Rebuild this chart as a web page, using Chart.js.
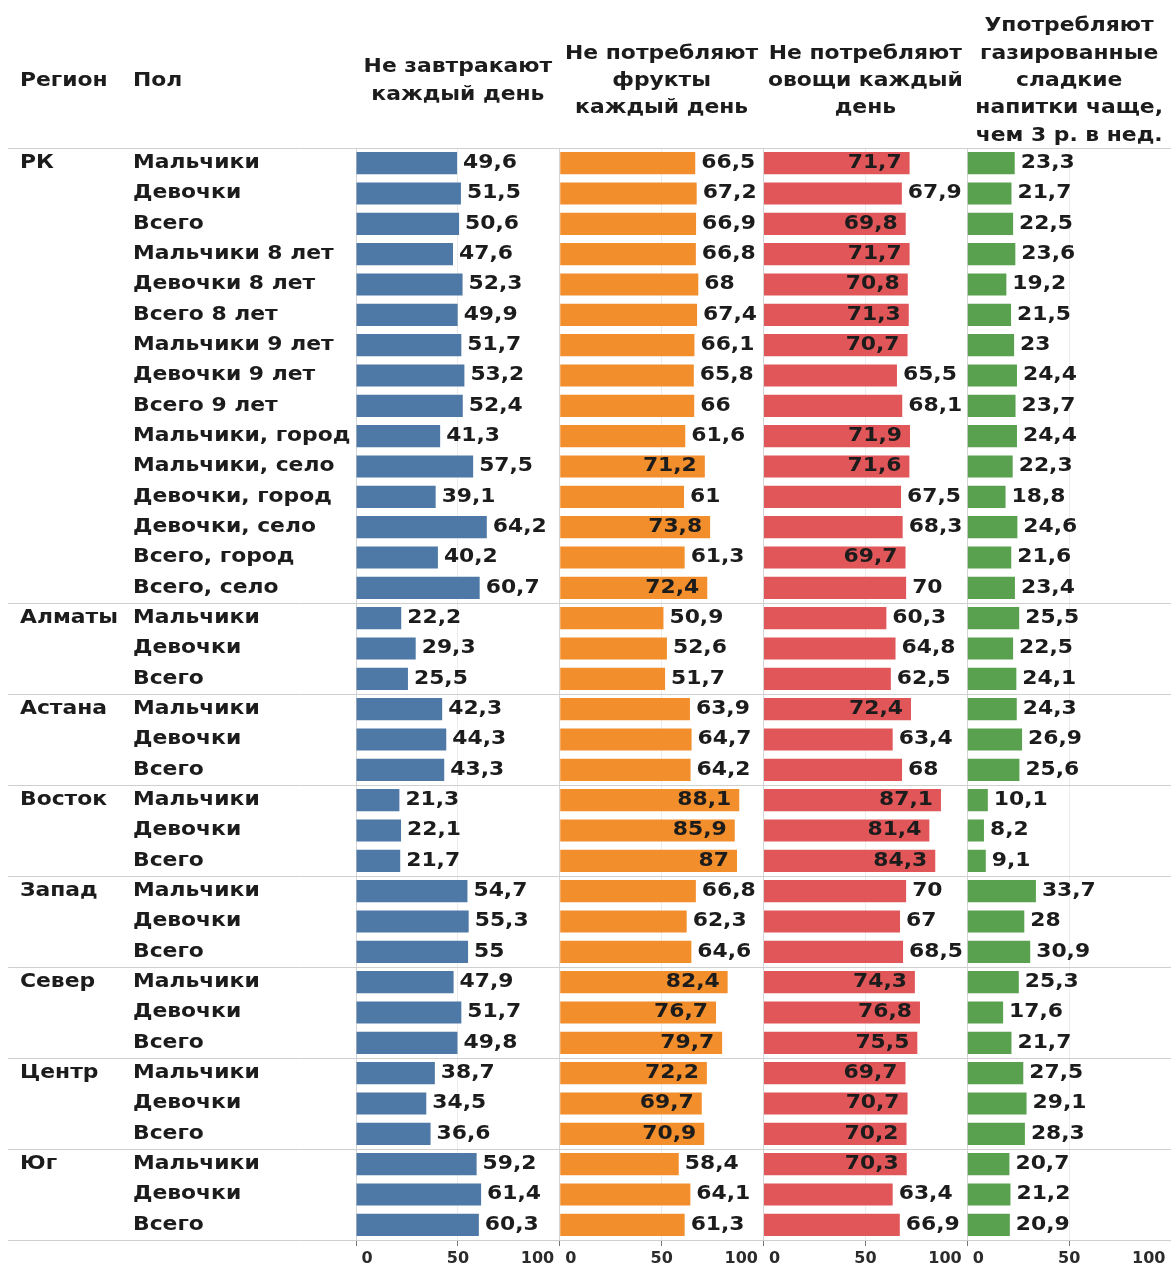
<!DOCTYPE html>
<html lang="ru">
<head>
<meta charset="utf-8">
<title>Питание школьников</title>
<script src="https://cdn.jsdelivr.net/npm/chart.js@4/dist/chart.umd.min.js"></script>
<style>
  html, body { margin: 0; padding: 0; background: #ffffff; overflow: hidden; }
  #wrap { position: relative; width: 1174px; height: 1267px; }
</style>
</head>
<body>
<div id="wrap"><canvas id="chart"></canvas></div>
<script>
// Regions and the row labels inside each region
const regions = ['РК', 'Алматы', 'Астана', 'Восток', 'Запад', 'Север', 'Центр', 'Юг'];
const rkRows = [
  'Мальчики', 'Девочки', 'Всего',
  'Мальчики 8 лет', 'Девочки 8 лет', 'Всего 8 лет',
  'Мальчики 9 лет', 'Девочки 9 лет', 'Всего 9 лет',
  'Мальчики, город', 'Мальчики, село', 'Девочки, город', 'Девочки, село',
  'Всего, город', 'Всего, село'
];
const regionRows = ['Мальчики', 'Девочки', 'Всего'];

// Indicator values, %, in row order
const noBreakfast = [
  49.6, 51.5, 50.6, 47.6, 52.3, 49.9, 51.7, 53.2, 52.4, 41.3, 57.5, 39.1, 64.2, 40.2, 60.7,
  22.2, 29.3, 25.5,
  42.3, 44.3, 43.3,
  21.3, 22.1, 21.7,
  54.7, 55.3, 55,
  47.9, 51.7, 49.8,
  38.7, 34.5, 36.6,
  59.2, 61.4, 60.3
];
const noFruit = [
  66.5, 67.2, 66.9, 66.8, 68, 67.4, 66.1, 65.8, 66, 61.6, 71.2, 61, 73.8, 61.3, 72.4,
  50.9, 52.6, 51.7,
  63.9, 64.7, 64.2,
  88.1, 85.9, 87,
  66.8, 62.3, 64.6,
  82.4, 76.7, 79.7,
  72.2, 69.7, 70.9,
  58.4, 64.1, 61.3
];
const noVegetables = [
  71.7, 67.9, 69.8, 71.7, 70.8, 71.3, 70.7, 65.5, 68.1, 71.9, 71.6, 67.5, 68.3, 69.7, 70,
  60.3, 64.8, 62.5,
  72.4, 63.4, 68,
  87.1, 81.4, 84.3,
  70, 67, 68.5,
  74.3, 76.8, 75.5,
  69.7, 70.7, 70.2,
  70.3, 63.4, 66.9
];
const sodaDrinks = [
  23.3, 21.7, 22.5, 23.6, 19.2, 21.5, 23, 24.4, 23.7, 24.4, 22.3, 18.8, 24.6, 21.6, 23.4,
  25.5, 22.5, 24.1,
  24.3, 26.9, 25.6,
  10.1, 8.2, 9.1,
  33.7, 28, 30.9,
  25.3, 17.6, 21.7,
  27.5, 29.1, 28.3,
  20.7, 21.2, 20.9
];

// Column titles (one line per entry)
const rowHeaderTitles = ['Регион', 'Пол'];
const columnTitles = [
  ['Не завтракают', 'каждый день'],
  ['Не потребляют', 'фрукты', 'каждый день'],
  ['Не потребляют', 'овощи каждый', 'день'],
  ['Употребляют', 'газированные', 'сладкие', 'напитки чаще,', 'чем 3 р. в нед.']
];
const xTicks = [0, 50, 100];
const seriesColors = ['#4e79a7', '#f28e2b', '#e15759', '#59a14f'];

// Flatten regions into rows
const rows = [];
const rowRegion = [];
regions.forEach(r => {
  const list = r === 'РК' ? rkRows : regionRows;
  list.forEach((g, i) => { rows.push(g); rowRegion.push(i === 0 ? r : ''); });
});

const seriesValues = [noBreakfast, noFruit, noVegetables, sodaDrinks];

const VIEW_W = 1171;      // visible page width
const TEXT_COLOR = '#1c1c1c';
const FONT = 'bold 19px "DejaVu Sans"';
const SX = 1.15;          // horizontal stretch of the table text
const GAP = 6;            // space between bar end and outside label
const INSET = 8;          // space between bar end and inside label

function fmt(v) { return String(v).replace('.', ','); }

function drawText(ctx, txt, x, y, align) {
  ctx.save();
  ctx.translate(x, y);
  ctx.scale(SX, 1);
  ctx.textAlign = align;
  ctx.textBaseline = 'middle';
  ctx.fillText(txt, 0, 0);
  ctx.restore();
}
function textW(ctx, txt) { return ctx.measureText(txt).width * SX; }

const tablePlugin = {
  id: 'tableText',
  beforeDatasetsDraw(chart) {
    const ctx = chart.ctx;
    const y = chart.scales.y;
    const area = chart.chartArea;
    ctx.save();
    ctx.strokeStyle = '#cfcfcf';
    ctx.lineWidth = 1;
    const lines = [area.top, area.bottom];
    rowRegion.forEach((r, i) => {
      if (r && i > 0) lines.push((y.getPixelForValue(i - 1) + y.getPixelForValue(i)) / 2);
    });
    lines.forEach(ly => {
      const py = Math.round(ly) + 0.5;
      ctx.beginPath();
      ctx.moveTo(8, py);
      ctx.lineTo(chart.width, py);
      ctx.stroke();
    });
    ctx.restore();
  },
  afterDatasetsDraw(chart) {
    const ctx = chart.ctx;
    const y = chart.scales.y;
    const area = chart.chartArea;
    ctx.save();
    ctx.font = FONT;
    ctx.fillStyle = TEXT_COLOR;

    // header row
    const headMid = area.top - 67;
    drawText(ctx, rowHeaderTitles[0], 20, headMid, 'left');
    drawText(ctx, rowHeaderTitles[1], 133, headMid, 'left');
    columnTitles.forEach((lines, k) => {
      const xs = chart.scales['x' + k];
      const cx = (xs.left + Math.min(xs.right, VIEW_W)) / 2;
      const lh = 27.3;
      const start = headMid - (lines.length - 1) * lh / 2;
      lines.forEach((ln, j) => drawText(ctx, ln, cx, start + j * lh, 'center'));
    });

    // row labels
    rows.forEach((g, i) => {
      const py = y.getPixelForValue(i);
      if (rowRegion[i]) drawText(ctx, rowRegion[i], 20, py, 'left');
      drawText(ctx, g, 133, py, 'left');
    });

    // value labels: outside the bar when they fit in the panel, else inside
    chart.data.datasets.forEach((ds, k) => {
      const meta = chart.getDatasetMeta(k);
      const xs = chart.scales['x' + k];
      meta.data.forEach((bar, i) => {
        const txt = fmt(ds.data[i]);
        const w = textW(ctx, txt);
        if (bar.x + GAP + w <= xs.right - 2) {
          drawText(ctx, txt, bar.x + GAP, bar.y, 'left');
        } else {
          drawText(ctx, txt, bar.x - INSET, bar.y, 'right');
        }
      });
    });
    ctx.restore();
  }
};

function panelAxis() {
  return {
    type: 'linear',
    position: 'bottom',
    stack: 'panels',
    min: 0,
    max: 100,
    afterBuildTicks: s => { s.ticks = xTicks.map(v => ({ value: v })); },
    afterFit: s => { s.height = 27; },
    ticks: {
      align: 'inner',
      autoSkip: false,
      maxRotation: 0,
      minRotation: 0,
      color: '#2b2b2b',
      padding: 3,
      font: { family: '"DejaVu Sans"', size: 16, weight: 'bold' },
      callback: (v, i, t) => i === 0 ? ' ' + v : (i === t.length - 1 ? v + ' ' : String(v))
    },
    grid: {
      color: c => (c.tick && c.tick.value === 50) ? '#ececec' : '#d4d4d4',
      tickColor: '#777777',
      tickLength: 6,
      drawTicks: true
    },
    border: { display: false }
  };
}

const scales = {
  y: { type: 'category', labels: rows, display: false, offset: true }
};
seriesValues.forEach((_, k) => { scales['x' + k] = panelAxis(); });

new Chart(document.getElementById('chart'), {
  type: 'bar',
  data: {
    labels: rows,
    datasets: seriesValues.map((vals, k) => ({
      data: vals,
      xAxisID: 'x' + k,
      yAxisID: 'y',
      backgroundColor: seriesColors[k],
      grouped: false,
      categoryPercentage: 0.73,
      barPercentage: 1
    }))
  },
  options: {
    indexAxis: 'y',
    responsive: true,
    maintainAspectRatio: false,
    animation: false,
    layout: { padding: { left: 356, top: 148, right: 0, bottom: 0 } },
    plugins: { legend: { display: false }, tooltip: { enabled: false } },
    scales
  },
  plugins: [tablePlugin]
});
</script>
</body>
</html>
